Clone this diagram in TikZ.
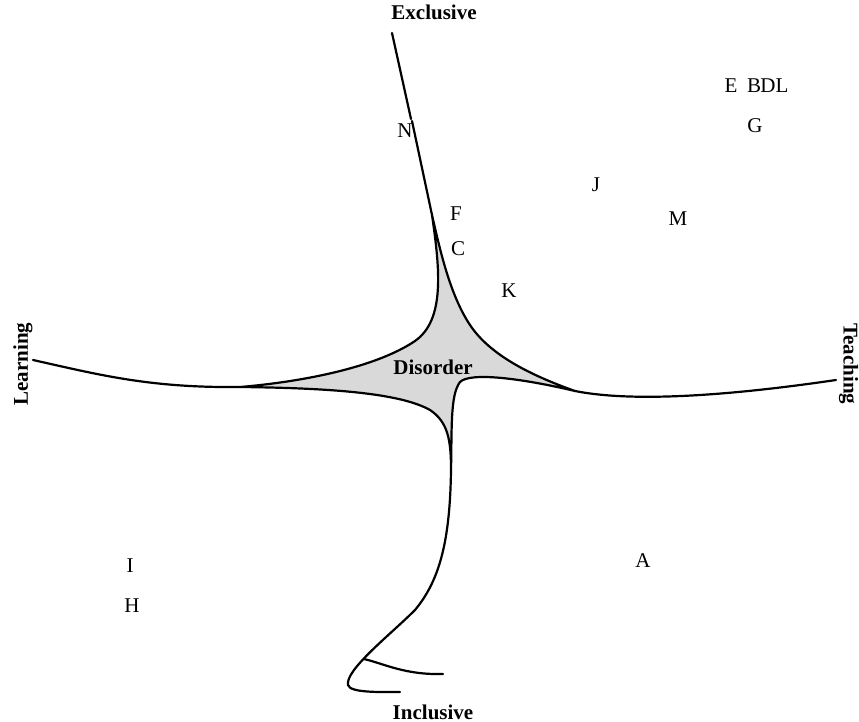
\documentclass[tikz,border=0pt]{standalone}
\usepackage{fontspec}
\setmainfont{Liberation Serif}
\usepackage{tikz}
\definecolor{disgray}{gray}{0.85}
\tikzset{
  axis/.style={line width=2.2pt, line join=round, line cap=round},
  lbl/.style={font=\fontsize{21}{25}\selectfont, inner sep=0pt},
  pole/.style={font=\fontsize{21}{25}\selectfont\bfseries, inner sep=0pt},
}

\begin{document}
\begin{tikzpicture}[x=1pt,y=-1pt]
    \useasboundingbox (0,0) rectangle (859,722);

    % Tips of the central region
    \coordinate (tipT) at (432,215);
    \coordinate (tipL) at (240,387);
    \coordinate (tipB) at (451,470);
    \coordinate (tipR) at (575,391);

    % Disorder region (four concave sides)
    \draw[axis, fill=disgray] (tipT) .. controls (440,270) and (445,320) .. (415,341)
        .. controls (375,368) and (300,382) .. (tipL)
        .. controls (330,388) and (400,393) .. (430,410)
        .. controls (448,422) and (451,440) .. (tipB)
        .. controls (452,430) and (450,395) .. (460,382)
        .. controls (470,372) and (520,378) .. (tipR)
        .. controls (530,375) and (490,355) .. (470,325)
        .. controls (450,295) and (440,250) .. (tipT) -- cycle;

    % Exclusive arm
    \coordinate (exEnd) at (392,33);
    \coordinate (exKinkA) at (411,119);
    \coordinate (exKinkB) at (412,121);
    \draw[axis] (exEnd) -- (exKinkA);
    \draw[axis] (exKinkB) -- (tipT);

    % Learning arm
    \coordinate (learnEnd) at (33,360);
    \draw[axis] (learnEnd) .. controls (100,375) and (150,388) .. (tipL);

    % Teaching arm
    \coordinate (teachEnd) at (836,380);
    \draw[axis] (tipR) .. controls (620,400) and (700,400) .. (teachEnd);

    % Inclusive arm with the loop at its foot
    \coordinate (loopEnd) at (400,692);
    \coordinate (forkA) at (364,659);
    \coordinate (forkEnd) at (443,674);
    \draw[axis] (tipB) .. controls (450,540) and (440,580) .. (415,610)
        .. controls (390,635) and (345,670) .. (348,685)
        .. controls (350,693) and (380,692) .. (loopEnd);
    \draw[axis] (forkA) .. controls (385,664) and (405,675) .. (forkEnd);

    % Pole labels
    \node[pole] (exclusive) at (434,12) {Exclusive};
    \node[pole] (inclusive) at (433,712) {Inclusive};
    \node[pole, rotate=90] (learning) at (23,364) {Learning};
    \node[pole, rotate=-90] (teaching) at (848.5,364) {Teaching};
    \node[pole] (disorder) at (433,367) {Disorder};

    % Letter markers
    \foreach \name/\x/\y in {N/405/131, F/456/214, C/458/249, K/509/291,
        J/596/185, M/678/219, A/643/561, I/130/566, H/132/606,
        E/731/86, B/754/86, D/768/86, L/782/86, G/755/126}
        \node[lbl] (pt\name) at (\x,\y) {\name};
\end{tikzpicture}
\end{document}
